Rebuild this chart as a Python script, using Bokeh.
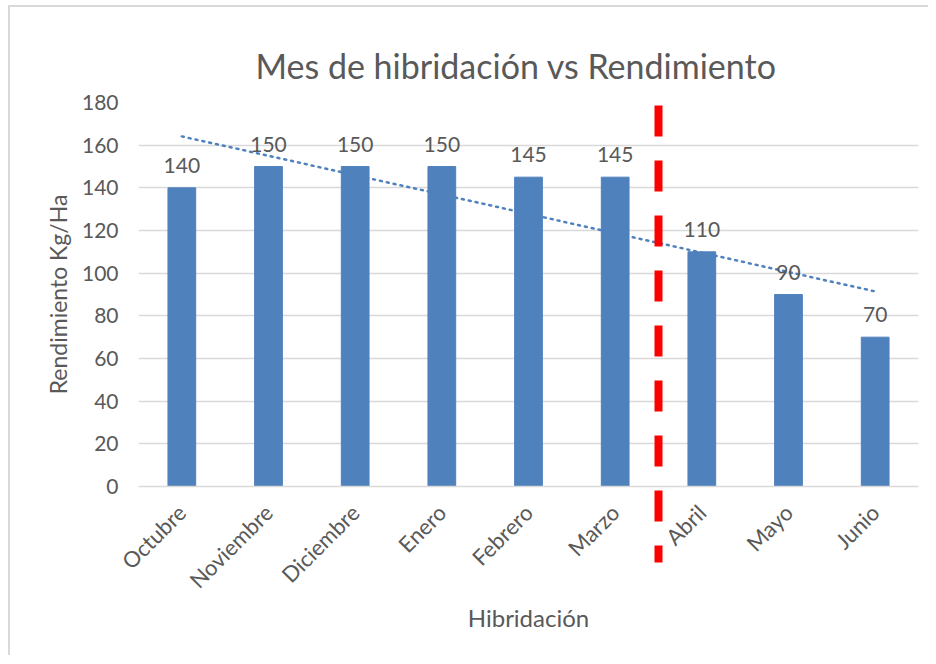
import numpy as np
from bokeh.plotting import figure
from bokeh.models import ColumnDataSource, FactorRange, Range1d, LabelSet
from bokeh.core.properties import value
from bokeh.embed import file_html
from bokeh.resources import INLINE

months = ["Octubre", "Noviembre", "Diciembre", "Enero", "Febrero", "Marzo", "Abril", "Mayo", "Junio"]
yields = [140, 150, 150, 150, 145, 145, 110, 90, 70]
y_ticks = [0, 20, 40, 60, 80, 100, 120, 140, 160, 180]
title_text = "Mes de hibridación vs Rendimiento"
x_title = "Hibridación"
y_title = "Rendimiento Kg/Ha"
split_after = "Marzo"
split_y_top = 178.6
split_y_bottom = -35.6

FONT = "Lato"
GRAY = "#595959"
BLUE = "#4F81BD"

# linear trend (Excel-style) computed from the data
xi = np.arange(1, len(yields) + 1)
slope, intercept = np.polyfit(xi, yields, 1)
trend_x = [i - 0.5 for i in xi]
trend_y = list(intercept + slope * xi)

src = ColumnDataSource(dict(m=months, y=yields, lab=[str(v) for v in yields]))

p = figure(width=920, height=650, x_range=FactorRange(*months), y_range=Range1d(0, 180),
           output_backend="svg", toolbar_location=None,
           min_border_left=128, min_border_right=12, min_border_top=95, min_border_bottom=171)
p.outline_line_color = None
p.background_fill_color = "white"
p.border_fill_color = "white"
p.styles = {"border-top": "2px solid #d9d9d9", "border-left": "2px solid #d9d9d9",
            "margin-left": "8px", "margin-top": "5px"}

p.title.text = title_text
p.title.align = "left"
p.title.text_font = FONT
p.title.text_font_size = "34px"
p.title.text_font_style = "normal"
p.title.text_color = GRAY
p.title.offset = 117
p.title.standoff = 33

p.vbar(x="m", top="y", width=0.32, source=src, fill_color=BLUE, line_color=BLUE)

labels = LabelSet(x="m", y="y", text="lab", source=src, text_align="center", text_baseline="bottom",
                  y_offset=15, text_font=value(FONT), text_font_size="21px", text_color=GRAY)
p.add_layout(labels)

p.line(trend_x, trend_y, line_color=BLUE, line_width=2.5, line_dash="2 5", line_cap="round")

split_x = months.index(split_after) + 1
p.segment(x0=[split_x], y0=[split_y_top], x1=[split_x], y1=[split_y_bottom],
          line_color="#FF0000", line_width=8, line_dash="31 24", level="overlay")

p.xgrid.grid_line_color = None
p.ygrid.grid_line_color = "#D9D9D9"
p.ygrid.grid_line_width = 1.5
p.yaxis.ticker = y_ticks
p.yaxis.axis_line_color = None
p.yaxis.major_tick_line_color = None
p.yaxis.major_tick_out = 0
p.yaxis.minor_tick_line_color = None
p.yaxis.major_label_text_font = FONT
p.yaxis.major_label_text_font_size = "21px"
p.yaxis.major_label_text_color = GRAY
p.yaxis.major_label_standoff = 20
p.yaxis.axis_label = y_title
p.yaxis.axis_label_text_font = FONT
p.yaxis.axis_label_text_font_size = "23px"
p.yaxis.axis_label_text_font_style = "normal"
p.yaxis.axis_label_text_color = GRAY
p.yaxis.axis_label_standoff = 7

p.xaxis.axis_line_color = "#D9D9D9"
p.xaxis.axis_line_width = 1.5
p.xaxis.major_tick_line_color = None
p.xaxis.major_tick_out = 0
p.xaxis.minor_tick_line_color = None
p.xaxis.major_label_orientation = np.pi / 4
p.xaxis.major_label_text_font = FONT
p.xaxis.major_label_text_font_size = "22px"
p.xaxis.major_label_text_color = GRAY
p.xaxis.major_label_standoff = 22
p.xaxis.axis_label = x_title
p.xaxis.axis_label_text_font = FONT
p.xaxis.axis_label_text_font_size = "24px"
p.xaxis.axis_label_text_font_style = "normal"
p.xaxis.axis_label_text_color = GRAY
p.xaxis.axis_label_standoff = -3

open("out.html", "w").write(file_html(p, INLINE))
